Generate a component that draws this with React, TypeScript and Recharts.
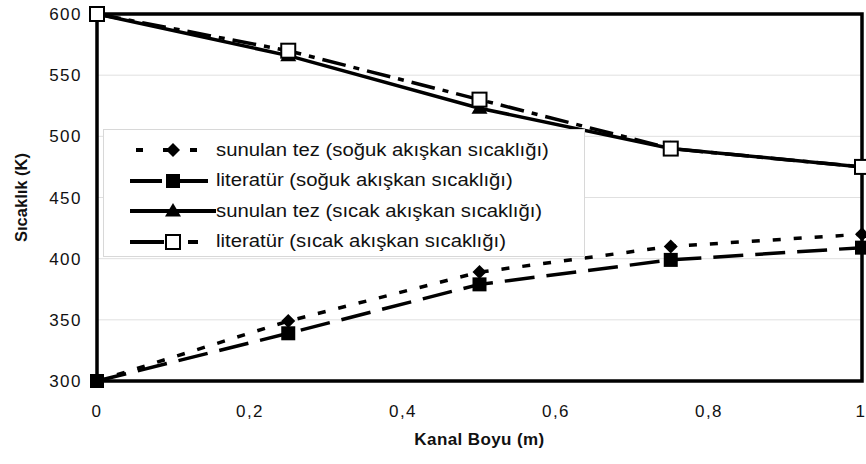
import React from 'react';
import { ComposedChart, Line, XAxis, YAxis, CartesianGrid, ReferenceArea } from 'recharts';

const positions = [0, 0.25, 0.5, 0.75, 1];
const coldThesis = [300, 349, 389, 410, 420];
const coldLiterature = [300, 339, 379, 399, 409];
const hotThesis = [600, 566, 523, 490, 475];
const hotLiterature = [600, 570, 530, 490, 475];
const xTicks = [0, 0.2, 0.4, 0.6, 0.8, 1];
const yTicks = [300, 350, 400, 450, 500, 550, 600];
const seriesNames = [
  'sunulan tez (soğuk akışkan sıcaklığı)',
  'literatür (soğuk akışkan sıcaklığı)',
  'sunulan tez (sıcak akışkan sıcaklığı)',
  'literatür (sıcak akışkan sıcaklığı)',
];

const data = positions.map((x, i) => ({
  x,
  ct: coldThesis[i],
  cl: coldLiterature[i],
  ht: hotThesis[i],
  hl: hotLiterature[i],
}));

const FONT = 'Arial, "Liberation Sans", sans-serif';

type Shape = 'diamond' | 'square' | 'triangle' | 'open';

function marker(shape: Shape, cx: number, cy: number, key?: any) {
  if (shape === 'diamond') {
    const s = 7;
    return <path key={key} d={`M${cx},${cy - s}L${cx + s},${cy}L${cx},${cy + s}L${cx - s},${cy}Z`} fill="#000" />;
  }
  if (shape === 'square') {
    const s = 7;
    return <rect key={key} x={cx - s} y={cy - s} width={2 * s} height={2 * s} fill="#000" />;
  }
  if (shape === 'triangle') {
    const s = 8;
    return <path key={key} d={`M${cx},${cy - s}L${cx + s},${cy + s * 0.7}L${cx - s},${cy + s * 0.7}Z`} fill="#000" />;
  }
  const s = 7;
  return <rect key={key} x={cx - s} y={cy - s} width={2 * s} height={2 * s} fill="#fff" stroke="#000" strokeWidth={2} />;
}

const dotFor = (shape: Shape) => (props: any) => {
  const { cx, cy, index } = props;
  if (cx == null || cy == null) return <g key={index} />;
  return marker(shape, cx, cy, index);
};

const styles: { key: string; shape: Shape; dash?: string; legendDash?: string }[] = [
  { key: 'ct', shape: 'diamond', dash: '8 13', legendDash: '7 20' },
  { key: 'cl', shape: 'square', dash: '30 12', legendDash: '32 14' },
  { key: 'ht', shape: 'triangle' },
  { key: 'hl', shape: 'open', dash: '24 8 6 8', legendDash: '34 24 10 30' },
];

const LegendBox = () => (
  <div
    style={{
      position: 'absolute',
      left: 103,
      top: 129,
      background: '#fff',
      border: '1px solid #d8d8d8',
      width: 482,
      height: 128,
      boxSizing: 'border-box',
      paddingTop: 5,
    }}
  >
    {styles.map((s, i) => (
      <div key={s.key} style={{ display: 'flex', alignItems: 'center', height: 30.5 }}>
        <svg width={112} height={24} style={{ flexShrink: 0 }}>
          <line
            x1={26}
            y1={12}
            x2={112}
            y2={12}
            stroke="#000"
            strokeWidth={4}
            strokeDasharray={s.legendDash}
            strokeDashoffset={s.key === 'ct' ? -6 : 0}
          />
          {marker(s.shape, 69, 12)}
        </svg>
        <span
          style={{
            fontFamily: FONT,
            fontSize: 17.5,
            color: '#111',
            whiteSpace: 'nowrap',
            display: 'inline-block',
            transform: 'scaleX(1.16)',
            transformOrigin: 'left center',
          }}
        >
          {seriesNames[i]}
        </span>
      </div>
    ))}
  </div>
);

const tickStyle = { fontFamily: FONT, fontSize: 17, fill: '#111', letterSpacing: 1.5 };

export default function App() {
  return (
    <div style={{ position: 'absolute', left: 0, top: 0, width: 866, height: 464, background: '#fff' }}>
      <ComposedChart width={866} height={464} data={data} margin={{ top: 14, right: 4, bottom: 0, left: 0 }}>
        <CartesianGrid vertical={false} stroke="#e0e0e0" strokeWidth={1} />
        <XAxis
          dataKey="x"
          type="number"
          domain={[0, 1]}
          ticks={xTicks}
          tickFormatter={(v: number) => String(v).replace('.', ',')}
          axisLine={false}
          tickLine={false}
          height={83}
          tick={tickStyle}
          dy={16}
          label={{ value: 'Kanal Boyu (m)', position: 'insideTop', offset: 52, style: { fontFamily: FONT, fontSize: 17, fill: '#111', fontWeight: 'bold', letterSpacing: 0.4 } }}
        />
        <YAxis
          type="number"
          domain={[300, 600]}
          ticks={yTicks}
          axisLine={false}
          tickLine={false}
          width={97}
          tick={tickStyle}
          dx={-7}
          label={{ value: 'Sıcaklık (K)', angle: -90, position: 'insideLeft', offset: 21, style: { fontFamily: FONT, fontSize: 16.5, fill: '#111', textAnchor: 'middle', fontWeight: 'bold' } }}
        />
        <ReferenceArea x1={0} x2={1} y1={300} y2={600} fill="none" stroke="#000" strokeWidth={3.5} ifOverflow="visible" />
        {styles.map((s) => (
          <Line
            key={s.key}
            dataKey={s.key}
            type="linear"
            stroke="#000"
            strokeWidth={3.5}
            strokeDasharray={s.dash}
            dot={dotFor(s.shape)}
            activeDot={false}
            isAnimationActive={false}
            legendType="none"
          />
        ))}
      </ComposedChart>
      <LegendBox />
    </div>
  );
}
